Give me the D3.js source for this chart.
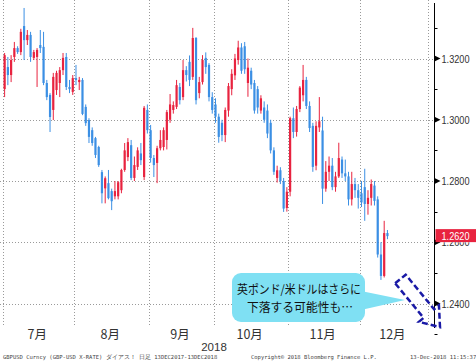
<!DOCTYPE html>
<html lang="ja">
<head>
<meta charset="UTF-8">
<title>GBPUSD</title>
<script src="https://d3js.org/d3.v7.min.js"></script>
<style>
    body {margin: 0; background: #fff;}
    svg {display: block;}
</style>
</head>
<body>
<script>
    const width = 476;
    const height = 362;

    // daily candles, 2 Jul 2018 .. 13 Dec 2018 (weekdays)
    const opens = [
        1.3100,1.3172,1.3146,1.3205,1.3234,1.3221,1.3306,1.3260,1.3277,1.3202,1.3205,1.3244,1.3238,1.3120,1.3081,1.3032,1.3097,1.3120,1.3162,1.3205,1.3107,1.3091,
        1.3136,1.3123,1.3130,1.3042,1.2999,1.2966,1.2940,1.2911,1.2829,1.2776,1.2793,1.2767,1.2750,1.2750,1.2770,1.2836,1.2878,1.2917,1.2810,1.2846,1.2890,1.2813,1.3032,
        1.2966,1.2875,1.2859,1.2907,1.2911,1.2934,1.3000,1.3032,1.3042,1.3107,1.3074,1.3162,1.3189,1.3140,1.3267,1.3087,1.3123,1.3202,1.3179,1.3074,
        1.3050,1.3010,1.2990,1.2950,1.3030,1.3100,1.3145,1.3195,1.3236,1.3240,1.3120,1.3160,1.3120,1.3100,1.3030,1.3040,1.3030,1.2990,1.2900,1.2810,1.2835,1.2800,1.2712,
        1.2765,1.3005,1.2960,1.3035,1.3080,1.3130,1.3045,1.2980,1.2850,1.2975,1.2965,1.2775,1.2830,1.2850,1.2780,1.2815,1.2870,1.2825,1.2815,1.2740,1.2790,1.2770,
        1.2760,1.2780,1.2725,1.2745,1.2785,1.2740,1.2560,1.2490,1.2630
    ];
    const highs = [
        1.3218,1.3205,1.3211,1.3254,1.3240,1.3297,1.3365,1.3293,1.3287,1.3228,1.3234,1.3293,1.3287,1.3130,1.3087,1.3153,1.3160,1.3172,1.3218,1.3218,1.3130,1.3146,
        1.3179,1.3140,1.3136,1.3050,1.3005,1.2975,1.2944,1.2915,1.2836,1.2815,1.2836,1.2775,1.2800,1.2800,1.2840,1.2924,1.2940,1.2934,1.2880,1.2910,1.2924,1.3045,1.3050,
        1.2983,1.2885,1.2915,1.2966,1.2975,1.3032,1.3084,1.3060,1.3130,1.3120,1.3195,1.3175,1.3210,1.3300,1.3270,1.3140,1.3211,1.3220,1.3185,1.3090,
        1.3070,1.3020,1.3000,1.3040,1.3120,1.3165,1.3215,1.3258,1.3250,1.3254,1.3200,1.3170,1.3130,1.3110,1.3080,1.3060,1.3050,1.3000,1.2910,1.2850,1.2845,1.2810,1.2780,
        1.3010,1.3040,1.3045,1.3110,1.3179,1.3140,1.3060,1.2990,1.2995,1.3074,1.3010,1.2865,1.2880,1.2875,1.2830,1.2925,1.2880,1.2870,1.2830,1.2830,1.2810,1.2790,
        1.2800,1.2840,1.2770,1.2805,1.2800,1.2750,1.2600,1.2670,1.2640
    ];
    const lows = [
        1.3074,1.3113,1.3123,1.3189,1.3215,1.3211,1.3195,1.3244,1.3189,1.3195,1.3107,1.3218,1.3113,1.3064,1.2960,1.2999,1.3081,1.3074,1.3146,1.3097,1.3087,1.3081,
        1.3113,1.3097,1.3015,1.2980,1.2924,1.2915,1.2875,1.2846,1.2727,1.2727,1.2740,1.2705,1.2740,1.2740,1.2760,1.2830,1.2865,1.2803,1.2800,1.2836,1.2852,1.2803,1.2955,
        1.2860,1.2813,1.2793,1.2900,1.2900,1.2903,1.2990,1.3020,1.3035,1.3050,1.3064,1.3125,1.3110,1.3130,1.3050,1.3070,1.3115,1.3150,1.3060,1.3020,
        1.2990,1.2925,1.2930,1.2927,1.3010,1.3080,1.3130,1.3180,1.3150,1.3150,1.3075,1.3100,1.3020,1.3020,1.3020,1.2990,1.2940,1.2890,1.2820,1.2795,1.2790,1.2699,1.2700,
        1.2750,1.2940,1.2945,1.3025,1.3060,1.3035,1.2960,1.2830,1.2835,1.2960,1.2725,1.2765,1.2800,1.2770,1.2765,1.2810,1.2810,1.2800,1.2720,1.2720,1.2745,1.2710,
        1.2715,1.2670,1.2690,1.2720,1.2720,1.2550,1.2477,1.2485,1.2610
    ];
    const closes = [
        1.3211,1.3146,1.3195,1.3234,1.3221,1.3287,1.3260,1.3277,1.3205,1.3221,1.3228,1.3234,1.3120,1.3074,1.3009,1.3140,1.3153,1.3162,1.3202,1.3107,1.3100,1.3136,
        1.3130,1.3130,1.3019,1.2989,1.2944,1.2924,1.2885,1.2852,1.2760,1.2809,1.2744,1.2734,1.2767,1.2796,1.2836,1.2900,1.2927,1.2810,1.2852,1.2900,1.2868,1.3039,1.2966,
        1.2875,1.2852,1.2907,1.2934,1.2966,1.3025,1.3050,1.3048,1.3113,1.3064,1.3162,1.3146,1.3130,1.3267,1.3064,1.3123,1.3195,1.3172,1.3074,1.3032,
        1.3010,1.2944,1.2950,1.3032,1.3110,1.3150,1.3200,1.3236,1.3160,1.3165,1.3170,1.3115,1.3030,1.3040,1.3070,1.3000,1.2955,1.2900,1.2830,1.2835,1.2800,1.2710,1.2765,
        1.3005,1.2960,1.3035,1.3105,1.3130,1.3045,1.2973,1.2846,1.2980,1.2995,1.2775,1.2830,1.2850,1.2780,1.2815,1.2875,1.2825,1.2815,1.2740,1.2790,1.2770,1.2745,
        1.2730,1.2725,1.2745,1.2790,1.2735,1.2560,1.2490,1.2630,1.2620
    ];

    const monthLabels = ["7月", "8月", "9月", "10月", "11月", "12月"];
    const yearLabel = "2018";
    const yMajor = [1.24, 1.26, 1.28, 1.30, 1.32];
    const yMinor = [1.23, 1.25, 1.27, 1.29, 1.31, 1.33];
    const lastPrice = 1.2620;
    const calloutLines = ["英ポンド/米ドルはさらに", "下落する可能性も…"];
    // arrow drawn in data space: [index, price]
    const arrowFrom = [122.0, 1.2480];
    const arrowTo = [134.2, 1.2323];
    const footerLeft = "GBPUSD Curncy (GBP-USD X-RATE) ダイアス！  日足 13DEC2017-13DEC2018";
    const footerMid = "Copyright© 2018 Bloomberg Finance L.P.";
    const footerRight = "13-Dec-2018 11:15:37";

    const upColor = "#e8233f";
    const downColor = "#3b8fe4";

    // weekday calendar Jul 2018 .. Dec 2018
    const days = d3.timeDay.range(new Date(2018, 6, 1), new Date(2019, 0, 1))
            .filter(d => d.getDay() !== 0 && d.getDay() !== 6);

    const candles = opens.map((o, i) => ({
        i: i, date: days[i], o: o, h: highs[i], l: lows[i], c: closes[i]
    }));

    const x = d3.scaleLinear().domain([-0.5, days.length - 0.5]).range([3, 428]);
    const y = d3.scaleLinear().domain([1.24, 1.32]).range([303.5, 58.5]);

    const axisX = 434.5;
    const plotBottom = 327;

    const svg = d3.select("body").append("svg")
            .attr("width", width).attr("height", height)
            .style("font-family", "'Liberation Sans', Arial, sans-serif");

    // month boundaries (first weekday of each month, plus Jan 1)
    const monthStarts = [];
    days.forEach((d, i) => {
        if (i === 0 || d.getMonth() !== days[i - 1].getMonth()) monthStarts.push(i - 0.5);
    });
    monthStarts.push(days.length - 0.5);

    // grid
    const grid = svg.append("g").attr("class", "grid")
            .attr("stroke", "#9a9a9a").attr("stroke-width", 1)
            .attr("stroke-dasharray", "1,2");

    grid.selectAll("line.h").data(yMajor).enter().append("line")
            .attr("class", "h")
            .attr("x1", 0).attr("x2", axisX)
            .attr("y1", d => Math.round(y(d)) + 0.5).attr("y2", d => Math.round(y(d)) + 0.5);

    grid.selectAll("line.v").data(monthStarts).enter().append("line")
            .attr("class", "v")
            .attr("x1", d => Math.round(x(d)) + 0.5).attr("x2", d => Math.round(x(d)) + 0.5)
            .attr("y1", 0).attr("y2", plotBottom);

    // candles
    const bodyW = 2.2;
    const g = svg.selectAll("g.candle")
            .data(candles)
            .enter()
            .append("g")
            .attr("class", "candle");

    g.append("line")
            .attr("x1", d => x(d.i)).attr("x2", d => x(d.i))
            .attr("y1", d => y(d.h)).attr("y2", d => y(d.l))
            .attr("stroke", d => d.c >= d.o ? upColor : downColor)
            .attr("stroke-width", 1);

    g.append("rect")
            .attr("x", d => x(d.i) - bodyW / 2)
            .attr("width", bodyW)
            .attr("y", d => y(Math.max(d.o, d.c)))
            .attr("height", d => Math.max(1, Math.abs(y(d.o) - y(d.c))))
            .attr("fill", d => d.c >= d.o ? upColor : downColor);

    // right axis
    svg.append("line")
            .attr("x1", axisX).attr("x2", axisX)
            .attr("y1", 3).attr("y2", 328)
            .attr("stroke", "#000").attr("stroke-width", 1);

    svg.selectAll("line.minor").data(yMinor).enter().append("line")
            .attr("class", "minor")
            .attr("x1", axisX).attr("x2", axisX + 3)
            .attr("y1", d => Math.round(y(d)) + 0.5).attr("y2", d => Math.round(y(d)) + 0.5)
            .attr("stroke", "#000");

    svg.selectAll("path.major").data(yMajor).enter().append("path")
            .attr("class", "major")
            .attr("d", d => {
                const yy = y(d);
                return `M${axisX},${yy - 3}L${axisX + 6},${yy}L${axisX},${yy + 3}Z`;
            })
            .attr("fill", "#000");

    // the last-price tag hides the top of the label it sits on
    const tagTop = y(lastPrice) - 7, tagH = 13;
    svg.append("clipPath").attr("id", "belowTag")
            .append("rect")
            .attr("x", axisX).attr("y", tagTop + tagH)
            .attr("width", width - axisX).attr("height", 20);

    svg.selectAll("text.ylab").data(yMajor).enter().append("text")
            .attr("class", "ylab")
            .attr("x", 441.5)
            .attr("y", d => y(d) + 4)
            .attr("font-size", 11)
            .attr("fill", "#333")
            .attr("textLength", 28)
            .attr("lengthAdjust", "spacingAndGlyphs")
            .attr("clip-path", d => Math.abs(y(d) - y(lastPrice)) < 12 ? "url(#belowTag)" : null)
            .text(d => d.toFixed(4));

    // last price tag
    svg.append("rect")
            .attr("x", axisX + 1).attr("y", tagTop)
            .attr("width", width - axisX - 1).attr("height", tagH)
            .attr("fill", "#e8233f");
    svg.append("text")
            .attr("x", 441.5).attr("y", y(lastPrice) + 4)
            .attr("font-size", 11)
            .attr("fill", "#fff")
            .attr("textLength", 28)
            .attr("lengthAdjust", "spacingAndGlyphs")
            .text(lastPrice.toFixed(4));

    // month labels
    const monthMid = monthLabels.map((m, k) => ({
        label: m, cx: (x(monthStarts[k]) + x(monthStarts[k + 1])) / 2 - 1.5
    }));
    svg.selectAll("text.month").data(monthMid).enter().append("text")
            .attr("class", "month")
            .attr("x", d => d.cx).attr("y", 339)
            .attr("text-anchor", "middle")
            .attr("font-size", 12.5)
            .attr("font-family", "'Noto Sans CJK JP', sans-serif")
            .attr("fill", "#333")
            .text(d => d.label);

    svg.append("text")
            .attr("x", 214).attr("y", 351)
            .attr("text-anchor", "middle")
            .attr("font-size", 11.5)
            .attr("fill", "#333")
            .text(yearLabel);

    // footer
    const foot = svg.append("g")
            .attr("font-family", "'DejaVu Sans Mono', monospace")
            .attr("font-size", 5.5)
            .attr("fill", "#444");
    foot.append("text").attr("x", 3).attr("y", 359).text(footerLeft);
    foot.append("text").attr("x", 251).attr("y", 359).text(footerMid);
    foot.append("text").attr("x", 410).attr("y", 359).text(footerRight);

    // callout
    const tip = [405, 300];
    const box = {x: 232, y: 273, w: 133, h: 49, r: 9};
    svg.append("path")
            .attr("d", `M${box.x + box.w - 4},${tip[1] - 9}L${tip[0]},${tip[1]}L${box.x + box.w - 4},${tip[1] + 10}Z`)
            .attr("fill", "#7fe0f3");
    svg.append("rect")
            .attr("x", box.x).attr("y", box.y)
            .attr("width", box.w).attr("height", box.h)
            .attr("rx", box.r)
            .attr("fill", "#7fe0f3");
    svg.selectAll("text.callout").data(calloutLines).enter().append("text")
            .attr("class", "callout")
            .attr("x", (d, k) => k === 0 ? 237 : 247)
            .attr("y", (d, k) => 294 + k * 17.5)
            .attr("font-size", 12)
            .attr("font-family", "'Noto Sans CJK JP', sans-serif")
            .attr("fill", "#111")
            .attr("textLength", (d, k) => k === 0 ? 124 : 106)
            .attr("lengthAdjust", "spacingAndGlyphs")
            .text(d => d);

    // dashed arrow (outline)
    const s = [x(arrowFrom[0]), y(arrowFrom[1])];
    const t = [x(arrowTo[0]), y(arrowTo[1])];
    const len = Math.hypot(t[0] - s[0], t[1] - s[1]);
    const u = [(t[0] - s[0]) / len, (t[1] - s[1]) / len];
    const p = [-u[1], u[0]];
    const headLen = 17.5, headHalf = 13, shaftHalf = 6.8;
    const b = [t[0] - u[0] * headLen, t[1] - u[1] * headLen];
    const pt = (o, v, k) => [o[0] + v[0] * k, o[1] + v[1] * k];
    const arrowPts = [
        pt(s, p, shaftHalf), pt(s, p, -shaftHalf), pt(b, p, -shaftHalf), pt(b, p, -headHalf),
        t, pt(b, p, headHalf), pt(b, p, shaftHalf)
    ];
    svg.append("path")
            .attr("d", d3.line()(arrowPts) + "Z")
            .attr("fill", "none")
            .attr("stroke", "#1a1aa6")
            .attr("stroke-width", 2.5)
            .attr("stroke-dasharray", "6,3");
</script>
</body>
</html>
